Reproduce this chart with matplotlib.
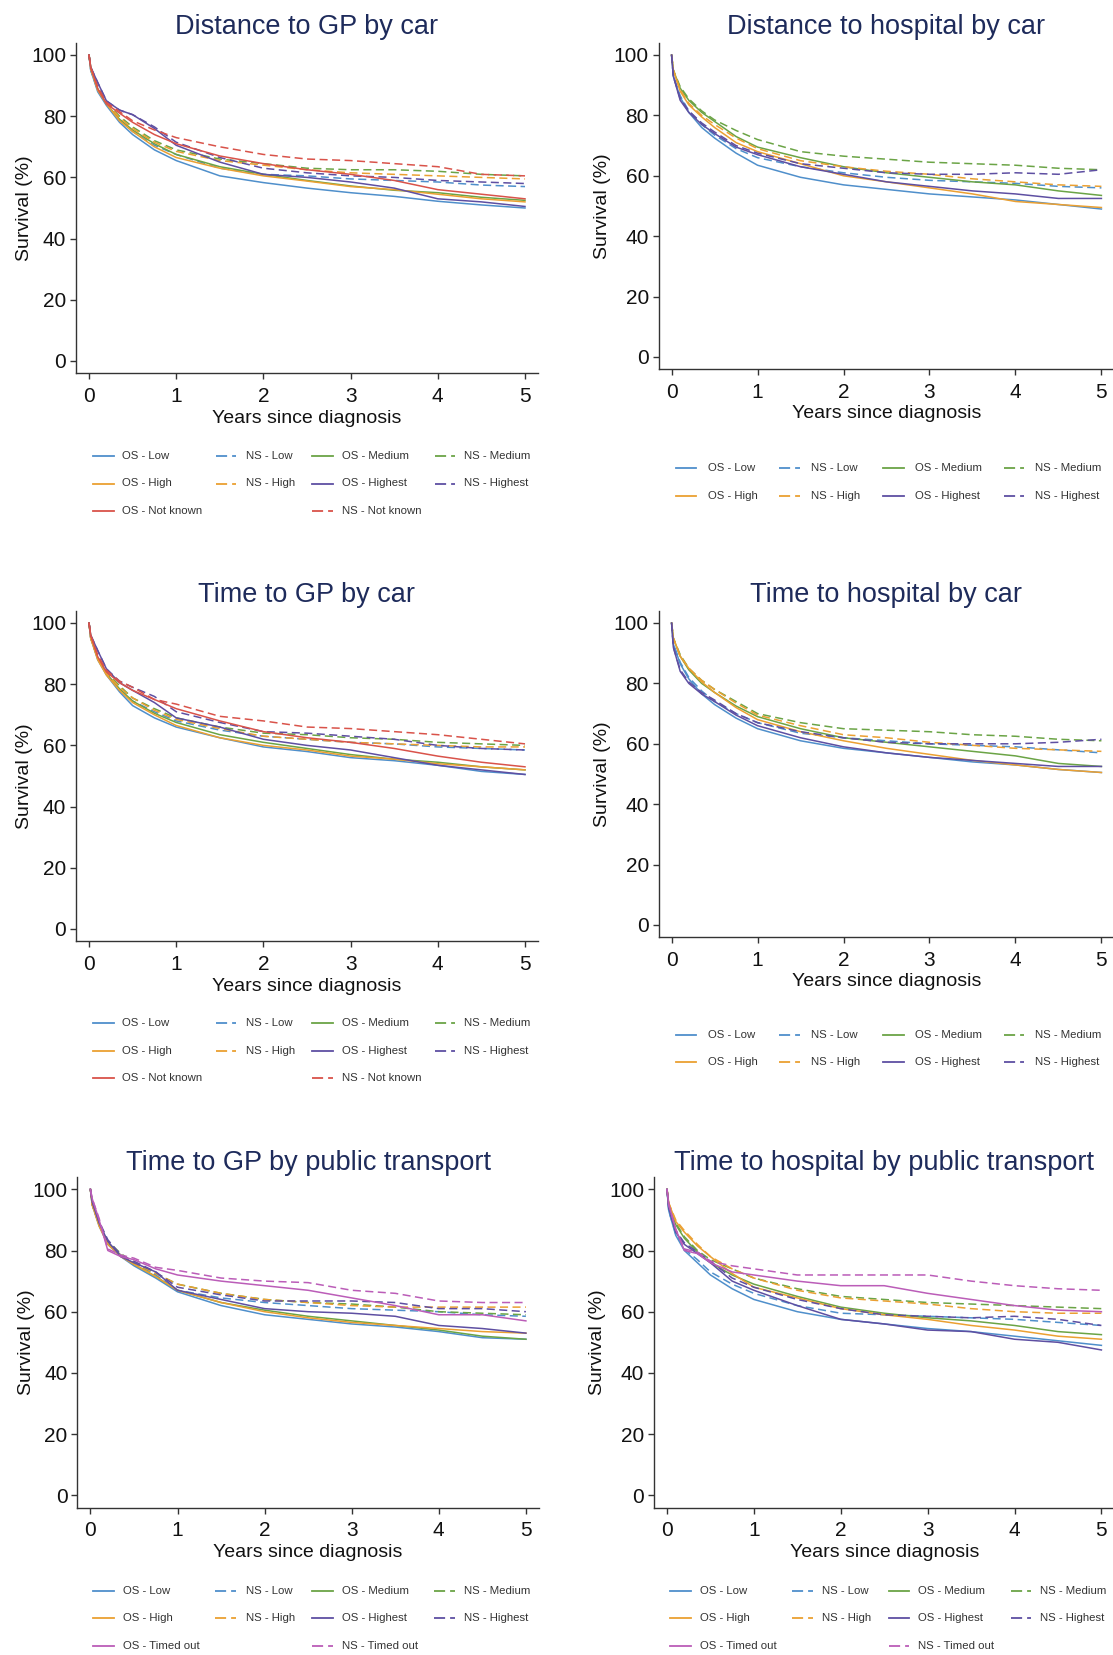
import numpy as np
import matplotlib.pyplot as plt
from matplotlib.lines import Line2D

plt.rcParams['font.family'] = ['Liberation Sans', 'DejaVu Sans']
plt.rcParams['lines.scale_dashes'] = False

years = [0, 0.02, 0.1, 0.2, 0.35, 0.5, 0.75, 1, 1.5, 2, 2.5, 3, 3.5, 4, 4.5, 5]

groups_gp_car = ['Low', 'Medium', 'High', 'Highest', 'Not known']
groups_hosp_car = ['Low', 'Medium', 'High', 'Highest']
groups_pt = ['Low', 'Medium', 'High', 'Highest', 'Timed out']

# overall survival (OS) and net survival (NS), %, one row per group
dist_gp_os = [
    [100, 95, 88, 83.5, 78, 74, 69, 65.5, 60.5, 58.3, 56.5, 55, 53.8, 52.2, 51, 50],
    [100, 96, 89, 84, 79, 75.5, 71, 67.5, 63.5, 61, 59, 57.2, 55.8, 55, 53.5, 52.5],
    [100, 95.5, 88.5, 84, 78.5, 75, 70, 66.5, 63, 60.5, 58.8, 57, 56, 54.5, 53, 52],
    [100, 96, 91, 85, 82, 80.5, 76, 70.5, 65, 61, 60, 58.5, 56.5, 53, 52, 50.5],
    [100, 96, 89, 84, 81, 78, 74, 71, 67, 64.5, 62.5, 61, 59, 56, 54.5, 53],
]
dist_gp_ns = [
    [100, 95, 88.5, 84, 79, 75, 70.5, 67.5, 63, 61, 60.5, 59.5, 59, 58.5, 57.5, 57],
    [100, 96, 89.5, 84.5, 80, 76.5, 72, 69, 66, 64.5, 63, 62.5, 62.5, 62, 61, 60.5],
    [100, 95.5, 89, 84.5, 79.5, 76, 71.5, 68.5, 65.5, 64, 62.5, 61.5, 61, 60.5, 60, 59.5],
    [100, 96, 91, 85, 82, 80.5, 76.5, 71.5, 66.5, 63, 61.5, 60.5, 60, 59, 58.5, 58],
    [100, 96, 89.5, 84.5, 81.5, 78.5, 75.5, 73, 70, 67.5, 66, 65.5, 64.5, 63.5, 61, 60.5],
]
dist_hosp_os = [
    [100, 93, 86, 81, 76, 72.5, 67.5, 63.5, 59.5, 57, 55.5, 54, 53, 52, 50.5, 49],
    [100, 95, 89, 85, 81, 78, 73, 69.5, 66, 63, 61, 59.5, 58, 57, 55, 53.5],
    [100, 95, 88, 83.5, 79.5, 76, 71, 68, 64, 60, 58, 56, 54, 51.5, 50.5, 49.5],
    [100, 93, 85, 81, 77, 74, 69.5, 67, 63, 60.5, 58, 56.5, 55, 54, 52.5, 52.5],
]
dist_hosp_ns = [
    [100, 93, 86.5, 81.5, 77, 73.5, 69, 66, 63, 61, 59.5, 58.5, 58, 57.5, 56.5, 56],
    [100, 95, 89.5, 85.5, 81.5, 78.5, 75, 72, 68, 66.5, 65.5, 64.5, 64, 63.5, 62.5, 62],
    [100, 95, 88.5, 84, 80, 77, 72.5, 69, 65, 63, 61.5, 60.5, 59, 58, 57, 56.5],
    [100, 93, 85.5, 81.5, 77.5, 74.5, 70, 67.5, 64, 62.5, 61, 60.5, 60.5, 61, 60.5, 62],
]
time_gp_os = [
    [100, 95, 88, 83, 77.5, 73, 69, 66, 62.5, 59.5, 58, 56, 55, 53.5, 51.5, 50.5],
    [100, 95.5, 88.5, 83.5, 78.5, 74.5, 70.5, 67.5, 63.5, 61, 59, 57, 55.5, 54.5, 53, 52],
    [100, 95, 88, 83, 78, 74, 70, 66.5, 62.5, 60, 58.5, 56.5, 55.5, 54, 53, 52],
    [100, 96, 91, 85, 80.5, 78, 74, 69, 66, 62, 60, 58.5, 56, 53.5, 52, 50.5],
    [100, 96, 89, 84, 80.5, 78, 75, 72, 68, 64.5, 62.5, 61, 59, 56.5, 54.5, 53],
]
time_gp_ns = [
    [100, 95, 88.5, 83.5, 78.5, 74.5, 71, 68, 65, 63, 62, 61, 60.5, 59.5, 59, 58.5],
    [100, 95.5, 89, 84, 79.5, 75.5, 72, 69, 66, 64, 63.5, 62.5, 62, 61, 60.5, 60],
    [100, 95, 88.5, 83.5, 79, 75.5, 71.5, 68.5, 65.5, 63, 62, 61, 60.5, 60, 59.5, 59.5],
    [100, 96, 91, 85, 81, 79, 76, 71, 67.5, 64.5, 64, 63, 62, 60, 59, 58.5],
    [100, 96, 89.5, 84.5, 81, 79, 75, 73.5, 69.5, 68, 66, 65.5, 64.5, 63.5, 62, 60.5],
]
time_hosp_os = [
    [100, 93, 86.5, 81.5, 76.5, 73, 68.5, 65, 61, 58.5, 57, 55.5, 54, 53, 51.5, 50.5],
    [100, 95, 89, 84.5, 80, 77, 72.5, 69, 65, 62, 60.5, 59, 57.5, 56, 53.5, 52.5],
    [100, 95, 89, 85, 80.5, 77, 72, 68, 64, 61, 58.5, 56.5, 54.5, 53, 51.5, 50.5],
    [100, 92, 84, 80, 76.5, 74, 69.5, 66, 62, 59, 57, 55.5, 54.5, 53.5, 52.5, 52.5],
]
time_hosp_ns = [
    [100, 93, 87, 82, 77.5, 74, 70, 67, 63.5, 62, 61, 60, 59.5, 59, 58, 57],
    [100, 95, 89.5, 85, 81, 78, 74, 70, 67, 65, 64.5, 64, 63, 62.5, 61.5, 61],
    [100, 95, 89, 85, 81, 78, 73.5, 69.5, 66, 63, 62, 60.5, 59.5, 58.5, 58, 57.5],
    [100, 92, 84.5, 80.5, 77, 74.5, 70, 67, 64, 62, 60.5, 60, 60, 60, 60.5, 61.5],
]
pt_gp_os = [
    [100, 95, 88, 82, 78, 75, 71, 66.5, 62, 59, 57.5, 56, 55, 53.5, 51.5, 51],
    [100, 95.5, 88.5, 82.5, 78.5, 75.5, 71.5, 67, 63, 60.5, 58.5, 57, 55.5, 54, 52, 51],
    [100, 95, 88, 82, 78, 75.5, 71.5, 67, 63, 60, 58, 56.5, 55.5, 54.5, 53.5, 53],
    [100, 96, 89, 83, 78, 76, 73, 67, 64, 61, 60, 59.5, 58.5, 55.5, 54.5, 53],
    [100, 97, 90, 80, 78, 77, 74, 72, 70, 68.5, 67, 64.5, 62, 59, 59, 57],
]
pt_gp_ns = [
    [100, 95, 88.5, 82.5, 78.5, 76, 72, 67, 64.5, 63, 62, 61, 60.5, 60, 59, 58.5],
    [100, 95.5, 89, 83, 79, 76, 72.5, 69, 66, 64, 63, 62.5, 61.5, 60, 59.5, 59],
    [100, 95, 88.5, 82.5, 78.5, 76, 72.5, 69, 66, 64, 63, 62, 61.5, 61.5, 61.5, 61.5],
    [100, 96, 89.5, 83.5, 78.5, 76.5, 73, 68, 65.5, 63.5, 63.5, 63.5, 63, 61, 61, 60],
    [100, 97, 90.5, 80.5, 78.5, 77.5, 74.5, 73.5, 71, 70, 69.5, 67, 66, 63.5, 63, 63],
]
pt_hosp_os = [
    [100, 93, 85, 80, 76, 72, 67.5, 64, 60, 57.5, 56, 54.5, 53.5, 52, 50.5, 49],
    [100, 95, 88.5, 84, 79.5, 76, 72, 69, 65, 61.5, 59.5, 58, 57, 55.5, 53.5, 52.5],
    [100, 95.5, 89.5, 86, 81.5, 78, 72.5, 68, 64.5, 61, 59, 57.5, 55.5, 54, 52, 51],
    [100, 94, 86, 82, 79, 76, 70, 67, 62, 57.5, 56, 54, 53.5, 51, 50, 47.5],
    [100, 95, 87, 80, 79, 76, 73, 72, 70, 68.5, 68.5, 66, 64, 62, 60.5, 60],
]
pt_hosp_ns = [
    [100, 93, 85.5, 80.5, 77, 73, 69, 66, 62, 59.5, 59, 58.5, 58, 57.5, 56.5, 55.5],
    [100, 95, 89, 84.5, 80, 77, 74, 71, 67.5, 65, 64, 63, 62.5, 62, 61.5, 61],
    [100, 95.5, 90, 86.5, 82, 78, 74, 71, 67, 64.5, 63.5, 62.5, 61, 60, 59.5, 59.5],
    [100, 94, 86.5, 82.5, 79.5, 76.5, 71, 68, 64, 61, 59, 58.5, 58, 58.5, 57.5, 55.5],
    [100, 95, 87, 80.5, 79.5, 76.5, 75, 74, 72, 72, 72, 72, 70, 68.5, 67.5, 67],
]

colors = {'Low': '#4F8FCB', 'Medium': '#6BA446', 'High': '#EBA032',
          'Highest': '#5E4FA2', 'Not known': '#D9534A', 'Timed out': '#BB5DB8'}

W, H = 1113, 1655
fig = plt.figure(figsize=(W / 100, H / 100), dpi=100)

# title, groups, OS, NS, x of year 0 and 5, y of 100% and 0% (pixels),
# title y, legend line x, legend text x, legend row y, ylabel pad
panels = [
    ('Distance to GP by car', groups_gp_car, dist_gp_os, dist_gp_ns,
     89, 525, 55, 361, 27, [93, 215.5, 312, 435], [122.5, 246, 341.5, 464.5], [456, 483.5, 511], -1.5),
    ('Distance to hospital by car', groups_hosp_car, dist_hosp_os, dist_hosp_ns,
     671.6, 1101.4, 55, 357, 27, [675.5, 779, 883, 1003.5], [708, 811, 915, 1035], [468, 496], 2),
    ('Time to GP by car', groups_gp_car, time_gp_os, time_gp_ns,
     89, 525, 623, 929, 595, [93, 215.5, 312, 435], [122.5, 246, 341.5, 464.5], [1023, 1051, 1078], -1.5),
    ('Time to hospital by car', groups_hosp_car, time_hosp_os, time_hosp_ns,
     671.6, 1101.4, 623, 925, 595, [675.5, 779, 883, 1003.5], [708, 811, 915, 1035], [1035, 1062], 2),
    ('Time to GP by public transport', groups_pt, pt_gp_os, pt_gp_ns,
     90.4, 525.9, 1189.3, 1495.3, 1162.5, [93, 215, 312, 434], [123.4, 246, 342, 464], [1590.5, 1618, 1646], -1.5),
    ('Time to hospital by public transport', groups_pt, pt_hosp_os, pt_hosp_ns,
     667, 1101.4, 1189.3, 1495.3, 1162.5, [670, 792, 888.6, 1010.6], [700, 822, 918.5, 1040], [1590.5, 1618, 1646], 2),
]

x_lo, x_hi = -0.15, 5.15
y_lo, y_hi = -4, 104
curve_dash = (5.8, 3.2)
legend_dash = (8, 3.6)

for (title, groups, os_vals, ns_vals, px0, px5, py100, py0, ty,
     leg_lx, leg_tx, leg_ry, ypad) in panels:
    u = (px5 - px0) / 5
    v = (py0 - py100) / 100
    left = px0 + x_lo * u
    right = px0 + x_hi * u
    top = py100 - (y_hi - 100) * v
    bottom = py0 - y_lo * v
    ax = fig.add_axes([left / W, 1 - bottom / H, (right - left) / W, (bottom - top) / H])

    for g, os_row, ns_row in zip(groups, os_vals, ns_vals):
        ax.plot(years, os_row, color=colors[g], lw=1.1)
        ax.plot(years, ns_row, color=colors[g], lw=1.1, dashes=curve_dash)

    ax.set_xlim(x_lo, x_hi)
    ax.set_ylim(y_lo, y_hi)
    ax.set_xticks(range(6))
    ax.set_yticks(range(0, 101, 20))
    for s in ['top', 'right']:
        ax.spines[s].set_visible(False)
    for s in ['left', 'bottom']:
        ax.spines[s].set_color('#333333')
        ax.spines[s].set_linewidth(1.0)
    ax.tick_params(axis='both', direction='out', length=4, width=1.0,
                   color='#333333', labelsize=15, labelcolor='#111111')
    ax.tick_params(axis='x', pad=6)
    ax.tick_params(axis='y', pad=3)
    ax.set_xlabel('Years since diagnosis', fontsize=14, labelpad=2.5, color='#111111')
    ax.set_ylabel('Survival (%)', fontsize=14, labelpad=ypad, color='#111111')

    fig.text((left + right) / 2 / W, 1 - ty / H, title, fontsize=19.5,
             color='#1E2B5B', ha='center', va='center')

    # legend, filled row by row like the original
    entries = []
    for g in groups[:4]:
        entries.append(('OS - ' + g, g, None))
        entries.append(('NS - ' + g, g, legend_dash))
    slots = [(r, c) for r in range(2) for c in range(4)]
    if len(groups) == 5:
        entries.append(('OS - ' + groups[4], groups[4], None))
        entries.append(('NS - ' + groups[4], groups[4], legend_dash))
        slots += [(2, 0), (2, 2)]
    for (label, g, dash), (r, c) in zip(entries, slots):
        y = 1 - leg_ry[r] / H
        x1 = leg_lx[c] / W
        x2 = (leg_lx[c] + 20.5) / W
        kw = {'dashes': dash} if dash else {}
        fig.add_artist(Line2D([x1, x2], [y, y], color=colors[g], lw=1.3, **kw))
        fig.text(leg_tx[c] / W, y, label, fontsize=8.2, color='#333333',
                 ha='left', va='center')

fig.savefig('out.png', dpi=100)
